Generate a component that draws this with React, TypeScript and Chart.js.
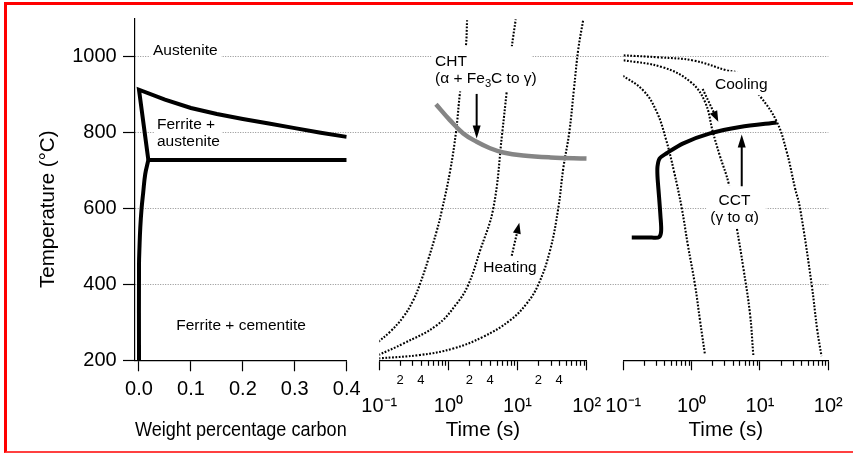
import React, { useEffect, useRef } from 'react';
import { Chart, registerables } from 'chart.js';

Chart.register(...registerables);

const FONT = '"Liberation Sans", Arial, Helvetica, sans-serif';

// ---------- Axis ticks ----------
const TEMP_TICKS = [200, 400, 600, 800, 1000];
const WT_TICKS = [0, 0.1, 0.2, 0.3, 0.4];
const TIME_TICKS = [0.1, 0.2, 0.3, 0.4, 0.5, 0.6, 0.7, 0.8, 0.9, 1, 2, 3, 4, 5, 6, 7, 8, 9, 10, 20, 30, 40, 50, 60, 70, 80, 90, 100];
const TIME_MAJOR_LABELS = ['10⁻¹', '10⁰', '10¹', '10²'];
const TIME_MINOR_LABELS = ['2', '4'];

// ---------- Panel 1: Fe–C phase diagram (wt% C, °C) ----------
const A3_WT = [0.018, 0, 0.05, 0.1, 0.15, 0.2, 0.25, 0.3, 0.35, 0.4];
const A3_T = [727, 912, 886, 864, 848, 835, 823, 811, 799, 788];
const A1_WT = [0.018, 0.4];
const A1_T = [727, 727];
const SOLVUS_WT = [0.018, 0.012, 0.008, 0.005, 0.0025, 0.001, 0, 0];
const SOLVUS_T = [727, 690, 640, 600, 550, 500, 450, 200];

// ---------- Panel 2: heating (time s, °C) ----------
const CHT_TIME = [0.66, 1.05, 1.64, 2.56, 4.0, 6.2, 12, 30, 100];
const CHT_T = [874, 832, 797, 775, 758, 747, 739, 734, 731];
const HEAT_A_TIME = [0.097, 0.143, 0.222, 0.31, 0.388, 0.512, 0.676, 0.8, 1.055, 1.287, 1.47, 1.79, 1.86];
const HEAT_A_T = [249, 275, 314, 358, 401, 466, 540, 593, 697, 801, 905, 1028, 1095];
const HEAT_B_TIME = [0.097, 0.222, 0.676, 1.317, 1.94, 2.86, 4.46, 6.01, 6.96, 8.23, 9.4];
const HEAT_B_T = [214, 244, 292, 349, 399, 488, 600, 800, 906, 1023, 1097];
const HEAT_C_TIME = [0.097, 0.388, 1.176, 3.19, 7.78, 13.5, 19.95, 29.4, 38.8, 45.9, 56, 65.5, 75.6, 89.3];
const HEAT_C_T = [205, 214, 231, 262, 305, 349, 399, 488, 600, 706, 800, 915, 1019, 1097];

// ---------- Panel 3: cooling (time s, °C) ----------
const CCT_TIME = [0.133, 0.26, 0.333, 0.358, 0.35, 0.333, 0.3165, 0.3165, 0.339, 0.4315, 0.755, 1.857, 5.1, 17.6];
const CCT_T = [523, 523, 524, 540, 579, 632, 684, 710, 731, 745, 771, 797, 814, 826];
const COOL_1_TIME = [0.0895, 0.196, 0.308, 0.422, 0.552, 0.716, 0.885, 1.12, 1.326, 1.57];
const COOL_1_T = [954, 910, 854, 781, 697, 601, 501, 399, 305, 214];
const COOL_2_TIME = [0.0895, 0.38, 0.973, 1.57, 2.05, 2.56, 3.52, 4.57, 5.7, 7.14, 7.99];
const COOL_2_T = [991, 971, 932, 880, 800, 741, 662, 549, 444, 323, 214];
const COOL_3_TIME = [0.0895, 0.344, 1.058, 3.26, 4.82, 10, 17.6, 24.6, 32.6, 38.5, 57.1, 69, 79.5];
const COOL_3_T = [1003, 997, 989, 963, 955, 895, 828, 749, 653, 601, 399, 279, 211];

// ---------- Annotations (data coordinates) ----------
const LABEL_SIZE = 15.5;
const LABEL_LH = 17.4;
const LABELS = [
  { axis: 'x1', x: 0.0269, y: 1004.3, lines: ['Austenite'], align: 'left', pad: [2, 3.5, 2, 2.7], layer: 'under' },
  { axis: 'x1', x: 0.0346, y: 810, lines: ['Ferrite +', 'austenite'], align: 'left', pad: [0, 2, 0, 2], layer: 'under' },
  { axis: 'x1', x: 0.0717, y: 279, lines: ['Ferrite + cementite'], align: 'left', pad: [2, 2, 2, 2], layer: 'under' },
  { axis: 'x2', x: 0.64, y: 975.5, lines: ['CHT', '(α + Fe_3C to γ)'], align: 'left', pad: [5, -5, 5, 3.3], layer: 'over' },
  { axis: 'x2', x: 3.19, y: 431.4, lines: ['Heating'], align: 'left', pad: [2, 2, 2, 2], layer: 'over' },
  { axis: 'x3', x: 2.2, y: 914.5, lines: ['Cooling'], align: 'left', pad: [3, 3, 3, 3], layer: 'over' },
  { axis: 'x3', x: 4.24, y: 609.7, lines: ['CCT', '(γ to α)'], align: 'center', pad: [5, 7, 3, 4], layer: 'over' },
];
const ARROWS = [
  { axis: 'x2', from: [2.56, 901], to: [2.56, 784], dotted: false },
  { axis: 'x2', from: [8.23, 475], to: [10.6, 562], dotted: true },
  { axis: 'x3', from: [1.45, 914], to: [2.455, 827.5], dotted: true },
  { axis: 'x3', from: [5.41, 658], to: [5.41, 794], dotted: false },
];

// ---------- helpers ----------
const AXIS_H = 82.2;
const DOT = [1.8, 1.6];
const DOT_W = 2.1;

const mantissa = (v: number) => {
  const e = Math.floor(Math.log10(v) + 1e-9);
  return Math.round(v / Math.pow(10, e));
};
const isMajor = (v: any) => typeof v === 'number' && mantissa(v) === 1;
const majorLabel = (v: number) => TIME_MAJOR_LABELS[Math.round(Math.log10(v)) + 1];

const pts = (xs: number[], ys: number[]) => xs.map((x, i) => ({ x, y: ys[i] }));

const solid = (label: string, axis: string, xs: number[], ys: number[], extra: any = {}) => ({
  label,
  data: pts(xs, ys),
  xAxisID: axis,
  yAxisID: 'y',
  borderColor: '#000',
  borderWidth: 4,
  pointRadius: 0,
  pointHitRadius: 0,
  fill: false,
  tension: 0,
  borderJoinStyle: 'miter',
  ...extra,
});
const dotted = (label: string, axis: string, xs: number[], ys: number[]) =>
  solid(label, axis, xs, ys, { borderWidth: DOT_W, borderDash: DOT, tension: 0.4 });

function richSegments(text: string) {
  const segs: { t: string; sub: boolean }[] = [];
  let buf = '';
  for (let i = 0; i < text.length; i++) {
    if (text[i] === '_' && i + 1 < text.length) {
      if (buf) segs.push({ t: buf, sub: false });
      buf = '';
      segs.push({ t: text[i + 1], sub: true });
      i++;
    } else buf += text[i];
  }
  if (buf) segs.push({ t: buf, sub: false });
  return segs;
}
const mainFont = `${LABEL_SIZE}px ${FONT}`;
const subFont = `${LABEL_SIZE * 0.72}px ${FONT}`;
function measureRich(ctx: CanvasRenderingContext2D, text: string) {
  let w = 0;
  for (const s of richSegments(text)) {
    ctx.font = s.sub ? subFont : mainFont;
    w += ctx.measureText(s.t).width;
  }
  return w;
}
function drawRich(ctx: CanvasRenderingContext2D, text: string, x: number, y: number) {
  let cx = x;
  for (const s of richSegments(text)) {
    ctx.font = s.sub ? subFont : mainFont;
    ctx.fillText(s.t, cx, s.sub ? y + LABEL_SIZE * 0.28 : y);
    cx += ctx.measureText(s.t).width;
  }
}

function drawLabels(chart: any, layer: string) {
  const ctx = chart.ctx as CanvasRenderingContext2D;
  const ys = chart.scales.y;
  ctx.save();
  ctx.textBaseline = 'alphabetic';
  ctx.textAlign = 'left';
  for (const lab of LABELS) {
    if (lab.layer !== layer) continue;
    const xs = chart.scales[lab.axis];
    const px = xs.getPixelForValue(lab.x);
    const py = ys.getPixelForValue(lab.y);
    const widths = lab.lines.map((l) => measureRich(ctx, l));
    const w = Math.max(...widths);
    const n = lab.lines.length;
    const left = lab.align === 'center' ? px - w / 2 : px;
    const [pt, pr, pb, pl] = lab.pad;
    const top = py - 0.93 * LABEL_SIZE - pt;
    const bottom = py + (n - 1) * LABEL_LH + 0.22 * LABEL_SIZE + pb;
    ctx.fillStyle = '#fff';
    ctx.fillRect(left - pl, top, w + pl + pr, bottom - top);
    ctx.fillStyle = '#000';
    lab.lines.forEach((l, i) => {
      const lx = lab.align === 'center' ? px - widths[i] / 2 : px;
      drawRich(ctx, l, lx, py + i * LABEL_LH);
    });
  }
  ctx.restore();
}

function drawArrows(chart: any) {
  const ctx = chart.ctx as CanvasRenderingContext2D;
  const ys = chart.scales.y;
  for (const a of ARROWS) {
    const xs = chart.scales[a.axis];
    const x1 = xs.getPixelForValue(a.from[0]);
    const y1 = ys.getPixelForValue(a.from[1]);
    const x2 = xs.getPixelForValue(a.to[0]);
    const y2 = ys.getPixelForValue(a.to[1]);
    const ang = Math.atan2(y2 - y1, x2 - x1);
    const hl = a.dotted ? 11 : 13;
    const hw = 4;
    const bx = x2 - hl * Math.cos(ang);
    const by = y2 - hl * Math.sin(ang);
    ctx.save();
    ctx.strokeStyle = '#000';
    ctx.lineWidth = a.dotted ? DOT_W : 2;
    ctx.setLineDash(a.dotted ? DOT : []);
    ctx.beginPath();
    ctx.moveTo(x1, y1);
    ctx.lineTo(bx + 1 * Math.cos(ang), by + 1 * Math.sin(ang));
    ctx.stroke();
    ctx.setLineDash([]);
    ctx.fillStyle = '#000';
    ctx.beginPath();
    ctx.moveTo(x2, y2);
    ctx.lineTo(bx + hw * Math.sin(ang), by - hw * Math.cos(ang));
    ctx.lineTo(bx - hw * Math.sin(ang), by + hw * Math.cos(ang));
    ctx.closePath();
    ctx.fill();
    ctx.restore();
  }
}

function drawMinorTicks(chart: any) {
  const ctx = chart.ctx as CanvasRenderingContext2D;
  ctx.save();
  ctx.strokeStyle = '#000';
  ctx.lineWidth = 1.2;
  for (const id of ['x2', 'x3']) {
    const s = chart.scales[id];
    for (const v of TIME_TICKS) {
      if (isMajor(v)) continue;
      const px = Math.round(s.getPixelForValue(v)) + 0.5;
      ctx.beginPath();
      ctx.moveTo(px, s.top);
      ctx.lineTo(px, s.top + 5.5);
      ctx.stroke();
    }
  }
  ctx.restore();
}

const annotationPlugin = {
  id: 'annotations',
  beforeDatasetsDraw(chart: any) {
    drawLabels(chart, 'under');
  },
  afterDatasetsDraw(chart: any) {
    drawLabels(chart, 'over');
    drawArrows(chart);
  },
  afterDraw(chart: any) {
    drawMinorTicks(chart);
  },
};

const titleFont = { family: FONT, size: 20.5, lineHeight: 1.2 };
const tickFont = { family: FONT, size: 20, lineHeight: 1.2 };
const minorFont = { family: FONT, size: 13, lineHeight: 20 / 13 };

const spacer = (weight: number, order: number) => ({
  type: 'linear',
  position: 'bottom',
  stack: 'panels',
  stackWeight: weight,
  weight: order,
  display: true,
  grid: { display: false, drawTicks: false },
  ticks: { display: false },
  border: { display: false },
  title: { display: false },
  afterFit: (s: any) => {
    s.height = AXIS_H;
  },
});

const timeAxis = (weight: number, order: number, withMinorLabels: boolean) => ({
  type: 'logarithmic',
  position: 'bottom',
  stack: 'panels',
  stackWeight: weight,
  weight: order,
  min: 0.1,
  max: 100,
  bounds: 'data',
  afterBuildTicks: (s: any) => {
    s.ticks = TIME_TICKS.map((v) => ({ value: v }));
  },
  afterFit: (s: any) => {
    s.height = AXIS_H;
  },
  grid: {
    display: true,
    drawOnChartArea: false,
    drawTicks: true,
    tickLength: 10,
    tickWidth: 1.2,
    tickBorderDash: [],
    tickColor: (c: any) => (c.tick && isMajor(c.tick.value) ? '#000' : 'rgba(0,0,0,0)'),
  },
  border: { display: true, color: '#000', width: 1.2 },
  ticks: {
    color: '#000',
    padding: 0,
    autoSkip: false,
    maxRotation: 0,
    minRotation: 0,
    font: (c: any) => (c.tick && isMajor(c.tick.value) ? tickFont : minorFont),
    callback: (v: any) => {
      const val = Number(v);
      if (isMajor(val)) return ['', majorLabel(val)];
      if (withMinorLabels) {
        const m = String(mantissa(val));
        if (TIME_MINOR_LABELS.includes(m)) return m;
      }
      return '';
    },
  },
  title: { display: true, text: 'Time (s)', color: '#000', font: titleFont, padding: { top: 0, bottom: 0 } },
});

export default function App() {
  const ref = useRef<HTMLCanvasElement>(null);

  useEffect(() => {
    Chart.defaults.font.family = FONT;
    Chart.defaults.color = '#000';
    const datasets: any[] = [
      // solid marks first (drawn on top)
      solid('Ferrite / austenite boundary', 'x1', A3_WT, A3_T),
      solid('Eutectoid', 'x1', A1_WT, A1_T),
      solid('Ferrite solvus', 'x1', SOLVUS_WT, SOLVUS_T, { tension: 0.4 }),
      solid('CCT (γ to α)', 'x3', CCT_TIME, CCT_T, { tension: 0.3, borderJoinStyle: 'round' }),
      solid('CHT (α + Fe3C to γ)', 'x2', CHT_TIME, CHT_T, { borderColor: '#858585', borderWidth: 4.5, tension: 0.4 }),
      dotted('Heating A', 'x2', HEAT_A_TIME, HEAT_A_T),
      dotted('Heating B', 'x2', HEAT_B_TIME, HEAT_B_T),
      dotted('Heating C', 'x2', HEAT_C_TIME, HEAT_C_T),
      dotted('Cooling 1', 'x3', COOL_1_TIME, COOL_1_T),
      dotted('Cooling 2', 'x3', COOL_2_TIME, COOL_2_T),
      dotted('Cooling 3', 'x3', COOL_3_TIME, COOL_3_T),
    ];

    const chart = new Chart(ref.current as HTMLCanvasElement, {
      type: 'line',
      data: { datasets },
      plugins: [annotationPlugin],
      options: {
        animation: false,
        responsive: true,
        maintainAspectRatio: false,
        devicePixelRatio: 1,
        events: [],
        layout: { padding: { left: 0, right: 24.7, top: 15.7, bottom: 10.5 } },
        plugins: { legend: { display: false }, tooltip: { enabled: false }, title: { display: false } },
        scales: {
          y: {
            type: 'linear',
            position: 'left',
            min: 200,
            max: 1100,
            bounds: 'data',
            afterBuildTicks: (s: any) => {
              s.ticks = TEMP_TICKS.map((v) => ({ value: v }));
            },
            afterFit: (s: any) => {
              s.width = 135;
            },
            grid: {
              display: true,
              drawOnChartArea: true,
              drawTicks: true,
              color: (c: any) => (c.tick && c.tick.value === 200 ? 'rgba(0,0,0,0)' : '#8e8e8e'),
              lineWidth: 1,
              tickColor: '#000',
              tickLength: 12,
              tickWidth: 1.2,
              tickBorderDash: [],
            },
            border: { display: true, color: '#000', width: 1.2, dash: [1, 1.5] },
            ticks: { color: '#000', font: tickFont, padding: 6.3, callback: (v: any) => String(v) },
            title: {
              display: true,
              text: 'Temperature (°C)       ',
              color: '#000',
              font: titleFont,
              padding: { top: 35.6, bottom: 0 },
            },
          },
          x1: {
            type: 'linear',
            position: 'bottom',
            stack: 'panels',
            stackWeight: 211.7,
            weight: 1,
            min: -0.0077,
            max: 0.4,
            bounds: 'data',
            afterBuildTicks: (s: any) => {
              s.ticks = WT_TICKS.map((v) => ({ value: v }));
            },
            afterFit: (s: any) => {
              s.height = AXIS_H;
            },
            grid: { display: true, drawOnChartArea: false, drawTicks: true, tickLength: 11, tickWidth: 1.2, tickColor: '#000', tickBorderDash: [] },
            border: { display: true, color: '#000', width: 1.2 },
            ticks: {
              color: '#000',
              font: tickFont,
              padding: 5.7,
              autoSkip: false,
              maxRotation: 0,
              minRotation: 0,
              callback: (v: any) => Number(v).toFixed(1),
            },
            title: { display: true, text: 'Weight percentage carbon', color: '#000', font: titleFont, padding: { top: 0, bottom: 0 } },
          },
          gap1: spacer(32.6, 2),
          x2: timeAxis(207.4, 3, true),
          gap2: spacer(36.6, 4),
          x3: timeAxis(205, 5, false),
        } as any,
      } as any,
    } as any);
    return () => chart.destroy();
  }, []);

  return (
    <div style={{ position: 'absolute', left: 0, top: 0, width: 853, height: 453, background: '#fff', overflow: 'hidden' }}>
      <canvas ref={ref} />
      <div
        style={{
          position: 'absolute',
          left: 4,
          top: 2,
          width: 849,
          height: 451,
          boxSizing: 'border-box',
          borderTop: '3px solid #ff0000',
          borderLeft: '3px solid #ff0000',
          borderBottom: '2px solid #ff4040',
          pointerEvents: 'none',
        }}
      />
    </div>
  );
}
